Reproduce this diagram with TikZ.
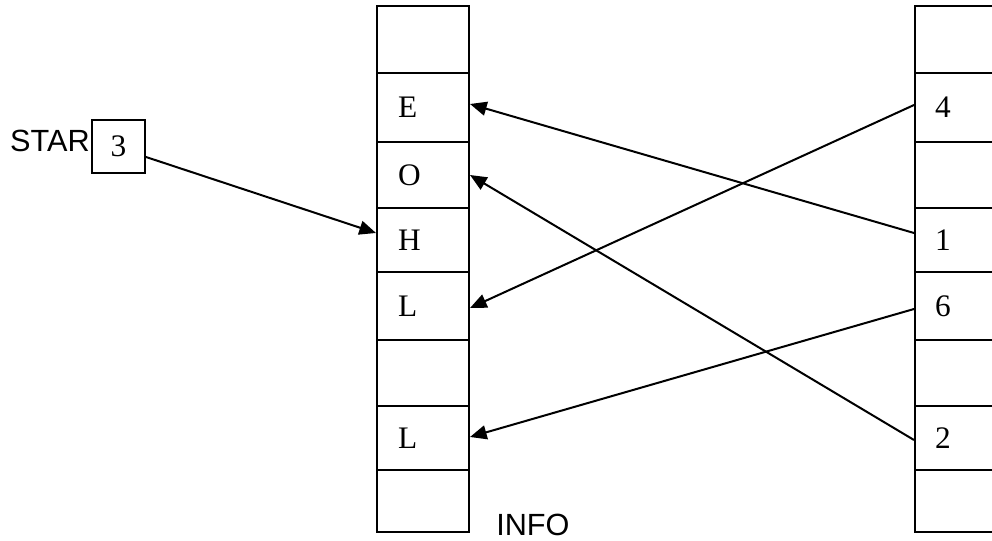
\documentclass[tikz,border=0pt]{standalone}
\usepackage{fontspec}
\setmainfont{Liberation Serif}
\setsansfont{Liberation Sans}
\usetikzlibrary{arrows.meta,calc}
\begin{document}
\begin{tikzpicture}[x=0.75pt,y=-0.75pt,
  lw/.style={line width=1.5pt},
  serif/.style={font=\rmfamily\fontsize{23.5}{27}\selectfont},
  sans/.style={font=\sffamily\fontsize{23}{27}\selectfont},
  lcell/.style={draw,lw,rectangle,serif,inner ysep=0pt,inner xsep=15.75pt,text width=37.5pt,align=left},
  rcell/.style={draw,lw,rectangle,serif,inner ysep=0pt,inner xsep=15pt,text width=33.75pt,align=left},
  arr/.style={lw,-{Triangle[length=12.5pt,width=10.5pt]}}
]
\useasboundingbox (0,0) rectangle (992,541);
\clip (0,0) rectangle (992,541);
\foreach \i/\yc/\h/\t in {0/39.5/67/{},1/107.5/69/E,2/175/66/O,3/240/64/H,4/306/68/L,5/373/66/{},6/438/64/L,7/501/62/{}}{
  \node[lcell,minimum height=\h*0.75pt] (l\i) at (423,\yc) {\t};
}
\foreach \i/\yc/\h/\t in {0/39.5/67/{},1/107.5/69/4,2/175/66/{},3/240/64/1,4/306/68/6,5/373/66/{},6/438/64/2,7/501/62/{}}{
  \node[rcell,minimum height=\h*0.75pt] (r\i) at (957.5,\yc) {\t};
}
\node[draw,lw,rectangle,serif,inner sep=0pt,minimum size=39.75pt] (ptr) at (118.5,146.5) {3};
\node[sans,anchor=base east,inner sep=0pt] (star) at (90,152) {STAR};
\node[sans,anchor=base west,inner sep=0pt] (info) at (496,535) {INFO};
\draw[arr] ($(ptr.east)+(0,10.5)$) -- ($(l3.west)+(0,-7)$);
\draw[arr] ($(r1.west)+(0,-2.5)$) -- ($(l4.east)+(0,2)$);
\draw[arr] ($(r3.west)+(0,-7)$) -- ($(l1.east)+(0,-3.5)$);
\draw[arr] ($(r4.west)+(0,3)$) -- ($(l6.east)+(0,-1)$);
\draw[arr] ($(r6.west)+(0,2)$) -- (l2.east);
\end{tikzpicture}
\end{document}
